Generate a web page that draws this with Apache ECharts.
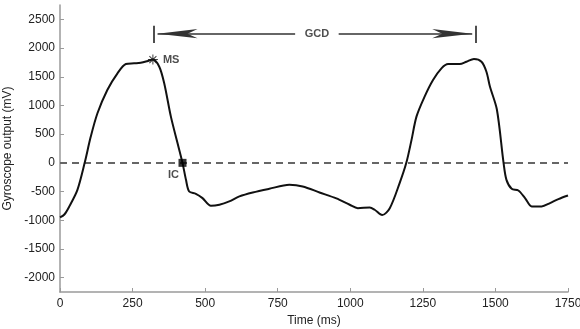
<!DOCTYPE html>
<html>
<head>
<meta charset="utf-8">
<script src="https://cdn.jsdelivr.net/npm/echarts@6/dist/echarts.min.js"></script>
<style>
  html, body { margin: 0; padding: 0; background: #fff; }
  #chart { width: 580px; height: 329px; }
</style>
</head>
<body>
<div id="chart"></div>
<script>
// time (ms) and gyroscope output (mV)
const timeMs = [
  0, 15, 33, 60, 85, 106, 129, 163, 198, 227, 255, 278, 300, 320, 342, 359,
  382, 405, 422, 434, 445, 468, 491, 520, 549, 583, 618, 664, 721, 790, 836,
  894, 952, 998, 1026, 1067, 1084, 1110, 1136, 1170, 1193, 1211, 1228, 1256,
  1285, 1314, 1337, 1377, 1400, 1426, 1452, 1469, 1481, 1505, 1528, 1538,
  1556, 1579, 1602, 1625, 1659, 1688, 1717, 1750
];
const gyroMv = [
  -950, -900, -750, -470, 0, 457, 864, 1270, 1560, 1722, 1734, 1744, 1770, 1800, 1675, 1386,
  805, 342, 0, -296, -499, -539, -614, -748, -730, -672, -585, -516, -452, -383, -411,
  -516, -620, -730, -789, -777, -817, -910, -790, -353, 0, 400, 805, 1153,
  1443, 1647, 1722, 1722, 1762, 1809, 1762, 1588, 1330, 929, 0, -296,
  -452, -481, -614, -759, -759, -701, -632, -570
];

const xTicks = [0, 250, 500, 750, 1000, 1250, 1500, 1750];
const yTicks = [-2000, -1500, -1000, -500, 0, 500, 1000, 1500, 2000, 2500];

// events
const msPoint = [320, 1800];
const icPoint = [422, 0];

// gait cycle duration annotation
const gcdStart = 322;
const gcdEnd = 1432;
const gcdLevel = 2250;
const gcdLabelAt = 885;

const curve = timeMs.map((t, i) => [t, gyroMv[i]]);

const asterisk = 'path://M9 0H11V20H9Z M0 9H20V11H0Z M3.7 2.3L17.7 16.3L16.3 17.7L2.3 3.7Z M16.3 2.3L17.7 3.7L3.7 17.7L2.3 16.3Z';

const axisGray = '#9a9a9a';
const labelFont = { color: '#222', fontSize: 12, fontFamily: 'Liberation Sans' };
const plain = v => String(v);

const chart = echarts.init(document.getElementById('chart'));

chart.setOption({
  animation: false,
  backgroundColor: '#fff',
  grid: { left: 60, right: 12, top: 5, bottom: 37, containLabel: false, outerBoundsMode: 'none' },
  xAxis: {
    type: 'value',
    min: 0,
    max: 1750,
    interval: 250,
    name: 'Time (ms)',
    nameLocation: 'middle',
    nameGap: 21,
    nameTextStyle: labelFont,
    axisLine: { show: true, onZero: false, lineStyle: { color: axisGray, width: 1.5 } },
    axisTick: { show: true, inside: true, length: 4, lineStyle: { color: axisGray } },
    axisLabel: { ...labelFont, margin: 6, customValues: xTicks, formatter: plain },
    splitLine: { show: false }
  },
  yAxis: {
    type: 'value',
    min: -2250,
    max: 2750,
    name: 'Gyroscope output (mV)',
    nameLocation: 'middle',
    nameGap: 33,
    nameTextStyle: labelFont,
    axisLine: { show: true, onZero: false, lineStyle: { color: axisGray, width: 1.5 } },
    axisTick: { show: true, inside: true, length: 4, lineStyle: { color: axisGray }, customValues: yTicks },
    axisLabel: { ...labelFont, margin: 5, customValues: yTicks, formatter: plain },
    splitLine: { show: false }
  },
  series: [
    {
      // zero line and GCD arrows
      type: 'line',
      data: [],
      silent: true,
      markLine: {
        silent: true,
        animation: false,
        label: { show: false },
        emphasis: { disabled: true },
        data: [
          [
            { coord: [0, 0], symbol: 'none', lineStyle: { color: '#666', width: 2, type: [7, 5] } },
            { coord: [1750, 0], symbol: 'none' }
          ],
          [
            { coord: [gcdLabelAt - 75, gcdLevel], symbol: 'none', lineStyle: { color: '#333', width: 1.5, type: 'solid' } },
            { coord: [gcdStart + 14, gcdLevel], symbol: 'arrow', symbolSize: [7, 40] }
          ],
          [
            { coord: [gcdLabelAt + 75, gcdLevel], symbol: 'none', lineStyle: { color: '#333', width: 1.5, type: 'solid' } },
            { coord: [gcdEnd - 12, gcdLevel], symbol: 'arrow', symbolSize: [7, 40] }
          ],
          [
            { coord: [gcdStart, 2090], symbol: 'none', lineStyle: { color: '#222', width: 1.6, type: 'solid' } },
            { coord: [gcdStart, 2390], symbol: 'none' }
          ],
          [
            { coord: [gcdEnd, 2090], symbol: 'none', lineStyle: { color: '#222', width: 1.6, type: 'solid' } },
            { coord: [gcdEnd, 2390], symbol: 'none' }
          ]
        ]
      }
    },
    {
      name: 'gyro',
      type: 'line',
      data: curve,
      smooth: 0.3,
      symbol: 'none',
      silent: true,
      z: 6,
      lineStyle: { color: '#111', width: 2 }
    },
    {
      name: 'MS',
      type: 'scatter',
      data: [msPoint],
      symbol: asterisk,
      symbolSize: 10,
      silent: true,
      z: 8,
      itemStyle: { color: '#111' },
      label: {
        show: true,
        formatter: 'MS',
        position: 'right',
        distance: 5,
        color: '#222',
        fontSize: 11,
        fontWeight: 'bold',
        fontFamily: 'Liberation Sans'
      }
    },
    {
      name: 'IC',
      type: 'scatter',
      data: [icPoint],
      symbol: 'rect',
      symbolSize: 8,
      silent: true,
      z: 8,
      itemStyle: { color: '#000' },
      label: {
        show: true,
        formatter: 'IC',
        position: 'bottom',
        offset: [-9, 0],
        distance: 3,
        color: '#222',
        fontSize: 11,
        fontWeight: 'bold',
        fontFamily: 'Liberation Sans'
      }
    },
    {
      name: 'GCD',
      type: 'scatter',
      data: [[gcdLabelAt, gcdLevel]],
      symbolSize: 0,
      silent: true,
      label: {
        show: true,
        formatter: 'GCD',
        position: 'inside',
        color: '#222',
        fontSize: 11,
        fontWeight: 'bold',
        fontFamily: 'Liberation Sans'
      }
    }
  ]
});
</script>
</body>
</html>
